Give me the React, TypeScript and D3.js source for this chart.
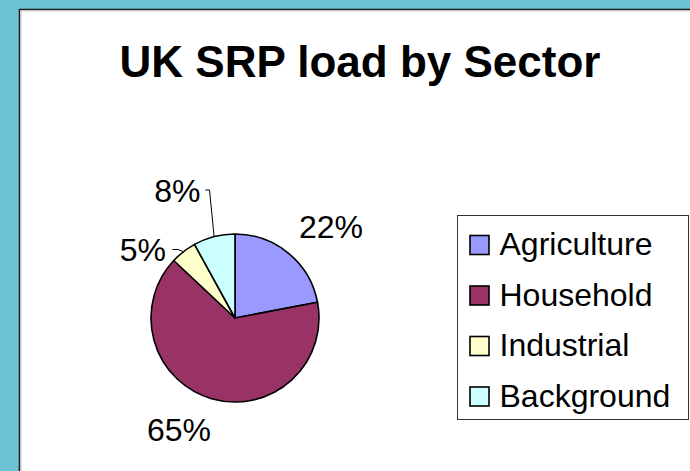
import React from "react";
import * as d3 from "d3";

const title = "UK SRP load by Sector";
const categories = ["Agriculture", "Household", "Industrial", "Background"];
const values = [22, 65, 5, 8];
const colors = ["#9999FF", "#993366", "#FFFFCC", "#CCFFFF"];

// layout constants (label anchors chosen to match the reference's placement)
const W = 690;
const H = 471;
const CX = 235;
const CY = 318;
const R = 84;
const FONT = "'Liberation Sans', Arial, Helvetica, sans-serif";
const labelLayout = [
  { x: 331, y: 238, anchor: "middle", leader: null },
  { x: 179, y: 441, anchor: "middle", leader: null },
  { x: 166, y: 260.5, anchor: "end", leader: { sx: 172.5, sy: 249.5, hx: 178 } },
  { x: 200.5, y: 202, anchor: "end", leader: { sx: 205.5, sy: 190, hx: 209.5 } },
];

export default function App() {
  const pie = d3.pie<number>().sort(null).value((d) => d);
  const arcs = pie(values);
  const arc = d3.arc<d3.PieArcDatum<number>>().innerRadius(0).outerRadius(R);
  const total = d3.sum(values);

  return (
    <svg
      width={W}
      height={H}
      style={{ position: "absolute", left: 0, top: 0, display: "block" }}
      xmlns="http://www.w3.org/2000/svg"
    >
      <rect x={0} y={0} width={W} height={H} fill="#6CC2D3" />
      <rect x={19.5} y={9.5} width={W + 10} height={H + 10} fill="#ffffff" stroke="#1a1a1a" strokeWidth={1.5} />
      <line x1={20.5} y1={11} x2={W} y2={11} stroke="#c8c8c8" strokeWidth={1} />
      <line x1={21} y1={10.5} x2={21} y2={H} stroke="#c8c8c8" strokeWidth={1} />

      <text
        x={360}
        y={76.5}
        textAnchor="middle"
        fontFamily={FONT}
        fontWeight="bold"
        fontSize={44}
        fill="#000"
      >
        {title}
      </text>

      <g transform={`translate(${CX},${CY})`}>
        {arcs.map((a, i) => (
          <path key={i} d={arc(a) || ""} fill={colors[i]} stroke="#000" strokeWidth={1.6} strokeLinejoin="round" />
        ))}
      </g>

      {arcs.map((a, i) => {
        const L = labelLayout[i];
        const mid = (a.startAngle + a.endAngle) / 2;
        const px = CX + R * Math.sin(mid);
        const py = CY - R * Math.cos(mid);
        const pct = Math.round((values[i] / total) * 100) + "%";
        return (
          <g key={i}>
            {L.leader && (
              <path
                d={`M${L.leader.sx},${L.leader.sy}H${L.leader.hx}L${px},${py}`}
                fill="none"
                stroke="#000"
                strokeWidth={1}
              />
            )}
            <text x={L.x} y={L.y} textAnchor={L.anchor} fontFamily={FONT} fontSize={32} fill="#000">
              {pct}
            </text>
          </g>
        );
      })}

      <rect x={457.5} y={215.5} width={231} height={204} fill="#fff" stroke="#333" strokeWidth={1} />
      {categories.map((c, i) => (
        <g key={c}>
          <rect
            x={470}
            y={235.5 + i * 50.5}
            width={19}
            height={19}
            fill={colors[i]}
            stroke="#000"
            strokeWidth={1.6}
          />
          <text x={499.5} y={255 + i * 50.5} fontFamily={FONT} fontSize={32} fill="#000">
            {c}
          </text>
        </g>
      ))}
    </svg>
  );
}
